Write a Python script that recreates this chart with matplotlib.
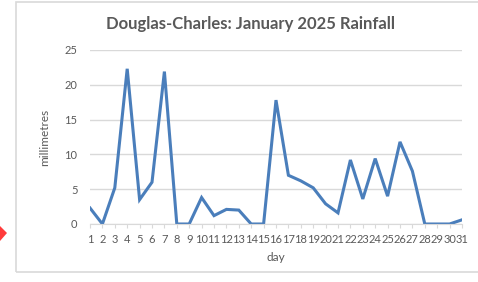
import numpy as np
import matplotlib.pyplot as plt
from matplotlib.patches import Rectangle, Polygon

# Rainfall data
days = list(range(1, 32))
rain_mm = [2.3, 0.0, 5.2, 22.3, 3.5, 6.0, 21.9, 0.0, 0.0, 3.8,
           1.2, 2.1, 2.0, 0.0, 0.0, 17.8, 7.0, 6.2, 5.2, 2.9,
           1.6, 9.2, 3.6, 9.4, 4.0, 11.8, 7.6, 0.0, 0.0, 0.0, 0.6]
y_ticks = [0, 5, 10, 15, 20, 25]

plt.rcParams['font.family'] = ['Lato', 'DejaVu Sans']
W, H = 478, 282
fig = plt.figure(figsize=(W / 100, H / 100), dpi=100)

# chart frame and red pointer at the left edge
fig.patches.append(Rectangle((16 / W, 1 - 272 / H), 1, 270 / H, transform=fig.transFigure,
                             fill=False, ec='#d9d9d9', lw=1.2))
fig.patches.append(Polygon([(0, 1 - 226 / H), (7 / W, 1 - 233 / H), (0, 1 - 241 / H)],
                           closed=True, transform=fig.transFigure, fc='#ff3b3b', ec='none'))

ax = fig.add_axes([90 / W, (H - 224) / H, (462 - 90) / W, (224 - 50) / H])
ax.plot(days, rain_mm, color='#4a7ebb', lw=2.2, solid_joinstyle='miter')

ax.set_xlim(1, 31)
ax.set_ylim(0, 25)
ax.set_xticks(days)
ax.set_xticklabels([str(d) for d in days])
ax.set_yticks(y_ticks)
ax.grid(True, axis='y', color='#d9d9d9', lw=1)
ax.set_axisbelow(True)
for side in ['top', 'right', 'left']:
    ax.spines[side].set_visible(False)
ax.spines['bottom'].set_color('#d9d9d9')
ax.tick_params(axis='x', colors='#595959', labelsize=8, length=3, color='#d9d9d9', pad=4)
ax.tick_params(axis='y', colors='#595959', labelsize=8, length=0, pad=9)

ax.set_xlabel('day', color='#595959', fontsize=8.5, labelpad=5)
ax.set_ylabel('millimetres', color='#595959', fontsize=8.5, labelpad=10)
fig.text(250 / W, 1 - 24 / H, 'Douglas-Charles: January 2025 Rainfall', ha='center', va='center',
         fontsize=12, fontweight='bold', color='#595959')

plt.savefig('out.png', dpi=100)
